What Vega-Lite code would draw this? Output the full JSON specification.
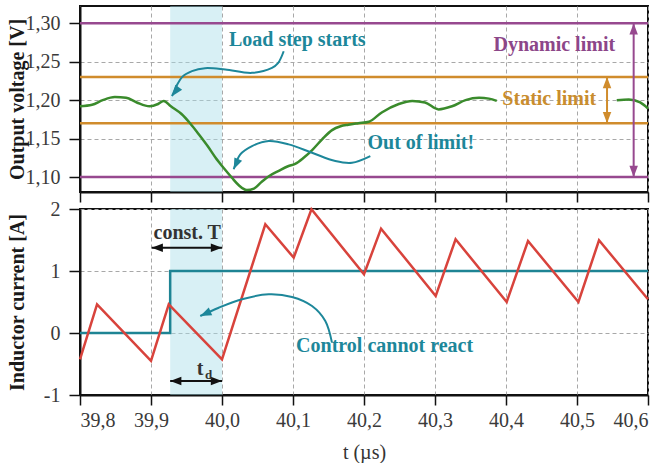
{
  "$schema": "https://vega.github.io/schema/vega-lite/v6.json",
  "padding": {"left": 5, "top": 5, "right": 6, "bottom": 0},
  "spacing": 17,
  "bounds": "flush",
  "config": {
    "font": "Liberation Serif",
    "view": {"stroke": "#111", "strokeWidth": 2},
    "axis": {
      "domainColor": "#111", "domainWidth": 2,
      "tickColor": "#111", "tickWidth": 1.5,
      "labelFont": "Liberation Serif", "labelFontSize": 20, "labelColor": "#3a3a3a",
      "titleFont": "Liberation Serif", "titleFontSize": 20, "titleFontWeight": "bold", "titleColor": "#1a1a1a",
      "gridColor": "#a8a8a8", "gridDash": [4, 3], "gridWidth": 1
    }
  },
  "datasets": {
    "shade": [{"t": 39.927, "t2": 40.0}],
    "hlines": [
      {"v": 1.30, "c": "#97498f"},
      {"v": 1.10, "c": "#97498f"},
      {"v": 1.23, "c": "#d08c2c"},
      {"v": 1.17, "c": "#d08c2c"}
    ],
    "voltage": [
      {"t": 39.800, "v": 1.192, "seg": 1}, {"t": 39.817, "v": 1.194, "seg": 1}, {"t": 39.832, "v": 1.200, "seg": 1},
      {"t": 39.849, "v": 1.204, "seg": 1}, {"t": 39.865, "v": 1.203, "seg": 1}, {"t": 39.880, "v": 1.197, "seg": 1},
      {"t": 39.898, "v": 1.192, "seg": 1}, {"t": 39.910, "v": 1.195, "seg": 1}, {"t": 39.918, "v": 1.199, "seg": 1},
      {"t": 39.928, "v": 1.192, "seg": 1}, {"t": 39.943, "v": 1.182, "seg": 1}, {"t": 39.955, "v": 1.170, "seg": 1},
      {"t": 39.967, "v": 1.156, "seg": 1}, {"t": 39.980, "v": 1.140, "seg": 1}, {"t": 39.991, "v": 1.125, "seg": 1},
      {"t": 40.003, "v": 1.111, "seg": 1}, {"t": 40.014, "v": 1.099, "seg": 1}, {"t": 40.024, "v": 1.089, "seg": 1},
      {"t": 40.035, "v": 1.083, "seg": 1}, {"t": 40.045, "v": 1.085, "seg": 1}, {"t": 40.055, "v": 1.093, "seg": 1},
      {"t": 40.066, "v": 1.101, "seg": 1}, {"t": 40.080, "v": 1.108, "seg": 1}, {"t": 40.093, "v": 1.114, "seg": 1},
      {"t": 40.103, "v": 1.117, "seg": 1}, {"t": 40.115, "v": 1.125, "seg": 1}, {"t": 40.127, "v": 1.135, "seg": 1},
      {"t": 40.141, "v": 1.149, "seg": 1}, {"t": 40.155, "v": 1.161, "seg": 1}, {"t": 40.167, "v": 1.166, "seg": 1},
      {"t": 40.178, "v": 1.168, "seg": 1}, {"t": 40.192, "v": 1.170, "seg": 1}, {"t": 40.207, "v": 1.172, "seg": 1},
      {"t": 40.225, "v": 1.184, "seg": 1}, {"t": 40.249, "v": 1.195, "seg": 1}, {"t": 40.268, "v": 1.199, "seg": 1},
      {"t": 40.286, "v": 1.197, "seg": 1}, {"t": 40.305, "v": 1.188, "seg": 1}, {"t": 40.324, "v": 1.192, "seg": 1},
      {"t": 40.343, "v": 1.200, "seg": 1}, {"t": 40.362, "v": 1.203, "seg": 1}, {"t": 40.376, "v": 1.202, "seg": 1},
      {"t": 40.387, "v": 1.199, "seg": 1},
      {"t": 40.556, "v": 1.200, "seg": 2}, {"t": 40.573, "v": 1.201, "seg": 2}, {"t": 40.589, "v": 1.197, "seg": 2},
      {"t": 40.600, "v": 1.189, "seg": 2}
    ],
    "curvesTop": [
      {"g": "a", "k": 0, "t": 40.0869, "v": 1.2636}, {"g": "a", "k": 1, "t": 40.0789, "v": 1.2481},
      {"g": "a", "k": 2, "t": 40.0704, "v": 1.2420}, {"g": "a", "k": 3, "t": 40.0423, "v": 1.2355},
      {"g": "a", "k": 4, "t": 40.0046, "v": 1.2399}, {"g": "a", "k": 5, "t": 39.9761, "v": 1.2416},
      {"g": "a", "k": 6, "t": 39.9577, "v": 1.2377}, {"g": "a", "k": 7, "t": 39.9437, "v": 1.2299},
      {"g": "a", "k": 8, "t": 39.9296, "v": 1.2052},
      {"g": "b", "k": 0, "t": 40.2089, "v": 1.1273}, {"g": "b", "k": 1, "t": 40.1831, "v": 1.1186},
      {"g": "b", "k": 2, "t": 40.1596, "v": 1.1208}, {"g": "b", "k": 3, "t": 40.1268, "v": 1.1316},
      {"g": "b", "k": 4, "t": 40.0939, "v": 1.1425}, {"g": "b", "k": 5, "t": 40.0658, "v": 1.1468},
      {"g": "b", "k": 6, "t": 40.0423, "v": 1.1403}, {"g": "b", "k": 7, "t": 40.0258, "v": 1.1295},
      {"g": "b", "k": 8, "t": 40.0165, "v": 1.1100}
    ],
    "varrows": [
      {"t": 40.5798, "v": 1.10, "v2": 1.30, "c": "#97498f"},
      {"t": 40.5423, "v": 1.17, "v2": 1.23, "c": "#d08c2c"}
    ],
    "headsTop": [
      {"t": 40.5798, "v": 1.30, "a": 0, "c": "#97498f"},
      {"t": 40.5798, "v": 1.10, "a": 180, "c": "#97498f"},
      {"t": 40.5423, "v": 1.23, "a": 0, "c": "#d08c2c"},
      {"t": 40.5423, "v": 1.17, "a": 180, "c": "#d08c2c"},
      {"t": 39.9296, "v": 1.2052, "a": 217, "c": "#1d879a"},
      {"t": 40.0165, "v": 1.1100, "a": 204, "c": "#1d879a"}
    ],
    "textTop": [
      {"t": 40.106, "v": 1.278, "s": "Load step starts", "c": "#1d879a", "fs": 20},
      {"t": 40.468, "v": 1.2714, "s": "Dynamic limit", "c": "#8c4689", "fs": 20},
      {"t": 40.461, "v": 1.2015, "s": "Static limit", "c": "#c98d2e", "fs": 20},
      {"t": 40.280, "v": 1.144, "s": "Out of limit!", "c": "#1d879a", "fs": 20}
    ],
    "current": [
      {"t": 39.800, "i": -0.424}, {"t": 39.824, "i": 0.463}, {"t": 39.900, "i": -0.450}, {"t": 39.925, "i": 0.463},
      {"t": 40.000, "i": -0.424}, {"t": 40.061, "i": 1.753}, {"t": 40.101, "i": 1.215}, {"t": 40.126, "i": 1.995},
      {"t": 40.200, "i": 0.947}, {"t": 40.224, "i": 1.683}, {"t": 40.301, "i": 0.597}, {"t": 40.329, "i": 1.511},
      {"t": 40.401, "i": 0.500}, {"t": 40.431, "i": 1.484}, {"t": 40.502, "i": 0.500}, {"t": 40.531, "i": 1.495},
      {"t": 40.600, "i": 0.544}
    ],
    "step": [{"t": 39.8, "i": 0}, {"t": 39.927, "i": 1}, {"t": 40.6, "i": 1}],
    "curvesBot": [
      {"g": "c", "k": 0, "t": 40.1549, "i": -0.156}, {"g": "c", "k": 1, "t": 40.1455, "i": 0.194},
      {"g": "c", "k": 2, "t": 40.1268, "i": 0.435}, {"g": "c", "k": 3, "t": 40.0986, "i": 0.581},
      {"g": "c", "k": 4, "t": 40.0658, "i": 0.624}, {"g": "c", "k": 5, "t": 40.0282, "i": 0.544},
      {"g": "c", "k": 6, "t": 39.9954, "i": 0.408}, {"g": "c", "k": 7, "t": 39.9694, "i": 0.274}
    ],
    "harrows": [
      {"t": 39.901, "t2": 40.0, "i": 1.376},
      {"t": 39.927, "t2": 40.0, "i": -0.774}
    ],
    "headsBot": [
      {"t": 39.901, "i": 1.376, "a": 270, "c": "#111111"},
      {"t": 40.0, "i": 1.376, "a": 90, "c": "#111111"},
      {"t": 39.927, "i": -0.774, "a": 270, "c": "#111111"},
      {"t": 40.0, "i": -0.774, "a": 90, "c": "#111111"},
      {"t": 39.9694, "i": 0.274, "a": 246, "c": "#1d879a"}
    ],
    "textBot": [
      {"t": 39.951, "i": 1.605, "s": "const. T", "c": "#333333", "fs": 20},
      {"t": 40.229, "i": -0.21, "s": "Control cannot react", "c": "#1d879a", "fs": 20},
      {"t": 39.969, "i": -0.58, "s": "t", "c": "#333333", "fs": 20},
      {"t": 39.981, "i": -0.68, "s": "d", "c": "#333333", "fs": 13}
    ]
  },
  "vconcat": [
    {
      "width": 568,
      "height": 186,
      "layer": [
        {
          "data": {"name": "shade"},
          "mark": {"type": "rect", "fill": "#a8dde9", "opacity": 0.45},
          "encoding": {
            "x": {
              "field": "t", "type": "quantitative", "title": null,
              "scale": {"domain": [39.8, 40.6], "nice": false, "zero": false},
              "axis": {
                "values": [39.8, 39.85, 39.9, 39.95, 40, 40.05, 40.1, 40.15, 40.2, 40.25, 40.3, 40.35, 40.4, 40.45, 40.5, 40.55, 40.6],
                "labels": false,
                "tickSize": {"condition": {"test": "abs(datum.value*10 - round(datum.value*10)) < 0.01", "value": 10}, "value": 6},
                "gridOpacity": {"condition": {"test": "abs(datum.value*10 - round(datum.value*10)) < 0.01", "value": 1}, "value": 0}
              }
            },
            "x2": {"field": "t2"}
          }
        },
        {
          "data": {"name": "hlines"},
          "mark": {"type": "rule", "strokeWidth": 2.5},
          "encoding": {
            "y": {
              "field": "v", "type": "quantitative", "title": "Output voltage [V]",
              "scale": {"domain": [1.0805, 1.3225], "nice": false, "zero": false},
              "axis": {
                "values": [1.1, 1.125, 1.15, 1.175, 1.2, 1.225, 1.25, 1.275, 1.3],
                "labelExpr": "abs(datum.value*20 - round(datum.value*20)) < 0.01 ? replace(format(datum.value, '.2f'), '.', ',') : ''",
                "tickSize": {"condition": {"test": "abs(datum.value*20 - round(datum.value*20)) < 0.01", "value": 11}, "value": 6},
                "gridOpacity": {"condition": {"test": "abs(datum.value*20 - round(datum.value*20)) < 0.01", "value": 1}, "value": 0},
                "labelPadding": 9,
                "titleX": -63, "titleY": 93, "titleAngle": -90, "titleAlign": "center", "titleBaseline": "middle"
              }
            },
            "color": {"field": "c", "type": "nominal", "scale": null}
          }
        },
        {
          "data": {"name": "voltage"},
          "mark": {"type": "line", "interpolate": "monotone", "color": "#3a8b2c", "strokeWidth": 2.5},
          "encoding": {
            "x": {"field": "t", "type": "quantitative", "title": null, "scale": {"domain": [39.8, 40.6], "nice": false, "zero": false}},
            "y": {"field": "v", "type": "quantitative", "title": "Output voltage [V]", "scale": {"domain": [1.0805, 1.3225], "nice": false, "zero": false}},
            "detail": {"field": "seg", "type": "nominal"}
          }
        },
        {
          "data": {"name": "curvesTop"},
          "mark": {"type": "line", "interpolate": "catmull-rom", "color": "#1d879a", "strokeWidth": 2},
          "encoding": {
            "x": {"field": "t", "type": "quantitative", "title": null, "scale": {"domain": [39.8, 40.6], "nice": false, "zero": false}},
            "y": {"field": "v", "type": "quantitative", "title": "Output voltage [V]", "scale": {"domain": [1.0805, 1.3225], "nice": false, "zero": false}},
            "detail": {"field": "g", "type": "nominal"},
            "order": {"field": "k", "type": "quantitative"}
          }
        },
        {
          "data": {"name": "varrows"},
          "mark": {"type": "rule", "strokeWidth": 2},
          "encoding": {
            "x": {"field": "t", "type": "quantitative", "title": null, "scale": {"domain": [39.8, 40.6], "nice": false, "zero": false}},
            "y": {"field": "v", "type": "quantitative", "title": "Output voltage [V]", "scale": {"domain": [1.0805, 1.3225], "nice": false, "zero": false}},
            "y2": {"field": "v2"},
            "color": {"field": "c", "type": "nominal", "scale": null}
          }
        },
        {
          "data": {"name": "headsTop"},
          "mark": {"type": "point", "shape": "M0,0 L-0.38,1 L0.38,1 Z", "filled": true, "opacity": 1, "size": 500},
          "encoding": {
            "x": {"field": "t", "type": "quantitative", "title": null, "scale": {"domain": [39.8, 40.6], "nice": false, "zero": false}},
            "y": {"field": "v", "type": "quantitative", "title": "Output voltage [V]", "scale": {"domain": [1.0805, 1.3225], "nice": false, "zero": false}},
            "angle": {"field": "a", "type": "quantitative", "scale": null},
            "color": {"field": "c", "type": "nominal", "scale": null}
          }
        },
        {
          "data": {"name": "textTop"},
          "mark": {"type": "text", "font": "Liberation Serif", "fontWeight": "bold", "align": "center", "baseline": "middle"},
          "encoding": {
            "x": {"field": "t", "type": "quantitative", "title": null, "scale": {"domain": [39.8, 40.6], "nice": false, "zero": false}},
            "y": {"field": "v", "type": "quantitative", "title": "Output voltage [V]", "scale": {"domain": [1.0805, 1.3225], "nice": false, "zero": false}},
            "text": {"field": "s"},
            "size": {"field": "fs", "type": "quantitative", "scale": null},
            "color": {"field": "c", "type": "nominal", "scale": null}
          }
        }
      ]
    },
    {
      "width": 568,
      "height": 186,
      "layer": [
        {
          "data": {"name": "shade"},
          "mark": {"type": "rect", "fill": "#a8dde9", "opacity": 0.45},
          "encoding": {
            "x": {
              "field": "t", "type": "quantitative", "title": "t (µs)",
              "scale": {"domain": [39.8, 40.6], "nice": false, "zero": false},
              "axis": {
                "values": [39.8, 39.85, 39.9, 39.95, 40, 40.05, 40.1, 40.15, 40.2, 40.25, 40.3, 40.35, 40.4, 40.45, 40.5, 40.55, 40.6],
                "labelExpr": "abs(datum.value*10 - round(datum.value*10)) < 0.01 ? replace(format(datum.value, '.1f'), '.', ',') : ''",
                "tickSize": {"condition": {"test": "abs(datum.value*10 - round(datum.value*10)) < 0.01", "value": 10}, "value": 6},
                "gridOpacity": {"condition": {"test": "abs(datum.value*10 - round(datum.value*10)) < 0.01", "value": 1}, "value": 0},
                "labelPadding": 5,
                "titlePadding": 12,
                "titleFontWeight": "normal",
                "titleColor": "#333333"
              }
            },
            "x2": {"field": "t2"}
          }
        },
        {
          "data": {"name": "step"},
          "mark": {"type": "line", "interpolate": "step-after", "color": "#1e8494", "strokeWidth": 2.5},
          "encoding": {
            "x": {"field": "t", "type": "quantitative", "title": "t (µs)", "scale": {"domain": [39.8, 40.6], "nice": false, "zero": false}},
            "y": {
              "field": "i", "type": "quantitative", "title": "Inductor current [A]",
              "scale": {"domain": [-1, 2], "nice": false, "zero": false},
              "axis": {
                "values": [-1, -0.5, 0, 0.5, 1, 1.5, 2],
                "labelExpr": "abs(datum.value - round(datum.value)) < 0.01 ? '' + round(datum.value) : ''",
                "tickSize": {"condition": {"test": "abs(datum.value - round(datum.value)) < 0.01", "value": 11}, "value": 6},
                "gridOpacity": {"condition": {"test": "abs(datum.value - round(datum.value)) < 0.01", "value": 1}, "value": 0},
                "labelPadding": 9,
                "titleX": -63, "titleY": 93, "titleAngle": -90, "titleAlign": "center", "titleBaseline": "middle"
              }
            }
          }
        },
        {
          "data": {"name": "current"},
          "mark": {"type": "line", "color": "#d8433c", "strokeWidth": 2.5},
          "encoding": {
            "x": {"field": "t", "type": "quantitative", "title": "t (µs)", "scale": {"domain": [39.8, 40.6], "nice": false, "zero": false}},
            "y": {"field": "i", "type": "quantitative", "title": "Inductor current [A]", "scale": {"domain": [-1, 2], "nice": false, "zero": false}}
          }
        },
        {
          "data": {"name": "curvesBot"},
          "mark": {"type": "line", "interpolate": "catmull-rom", "color": "#1d879a", "strokeWidth": 2},
          "encoding": {
            "x": {"field": "t", "type": "quantitative", "title": "t (µs)", "scale": {"domain": [39.8, 40.6], "nice": false, "zero": false}},
            "y": {"field": "i", "type": "quantitative", "title": "Inductor current [A]", "scale": {"domain": [-1, 2], "nice": false, "zero": false}},
            "detail": {"field": "g", "type": "nominal"},
            "order": {"field": "k", "type": "quantitative"}
          }
        },
        {
          "data": {"name": "harrows"},
          "mark": {"type": "rule", "strokeWidth": 2, "color": "#111111"},
          "encoding": {
            "x": {"field": "t", "type": "quantitative", "title": "t (µs)", "scale": {"domain": [39.8, 40.6], "nice": false, "zero": false}},
            "x2": {"field": "t2"},
            "y": {"field": "i", "type": "quantitative", "title": "Inductor current [A]", "scale": {"domain": [-1, 2], "nice": false, "zero": false}}
          }
        },
        {
          "data": {"name": "headsBot"},
          "mark": {"type": "point", "shape": "M0,0 L-0.38,1 L0.38,1 Z", "filled": true, "opacity": 1, "size": 500},
          "encoding": {
            "x": {"field": "t", "type": "quantitative", "title": "t (µs)", "scale": {"domain": [39.8, 40.6], "nice": false, "zero": false}},
            "y": {"field": "i", "type": "quantitative", "title": "Inductor current [A]", "scale": {"domain": [-1, 2], "nice": false, "zero": false}},
            "angle": {"field": "a", "type": "quantitative", "scale": null},
            "color": {"field": "c", "type": "nominal", "scale": null}
          }
        },
        {
          "data": {"name": "textBot"},
          "mark": {"type": "text", "font": "Liberation Serif", "fontWeight": "bold", "align": "center", "baseline": "middle"},
          "encoding": {
            "x": {"field": "t", "type": "quantitative", "title": "t (µs)", "scale": {"domain": [39.8, 40.6], "nice": false, "zero": false}},
            "y": {"field": "i", "type": "quantitative", "title": "Inductor current [A]", "scale": {"domain": [-1, 2], "nice": false, "zero": false}},
            "text": {"field": "s"},
            "size": {"field": "fs", "type": "quantitative", "scale": null},
            "color": {"field": "c", "type": "nominal", "scale": null}
          }
        }
      ]
    }
  ]
}
